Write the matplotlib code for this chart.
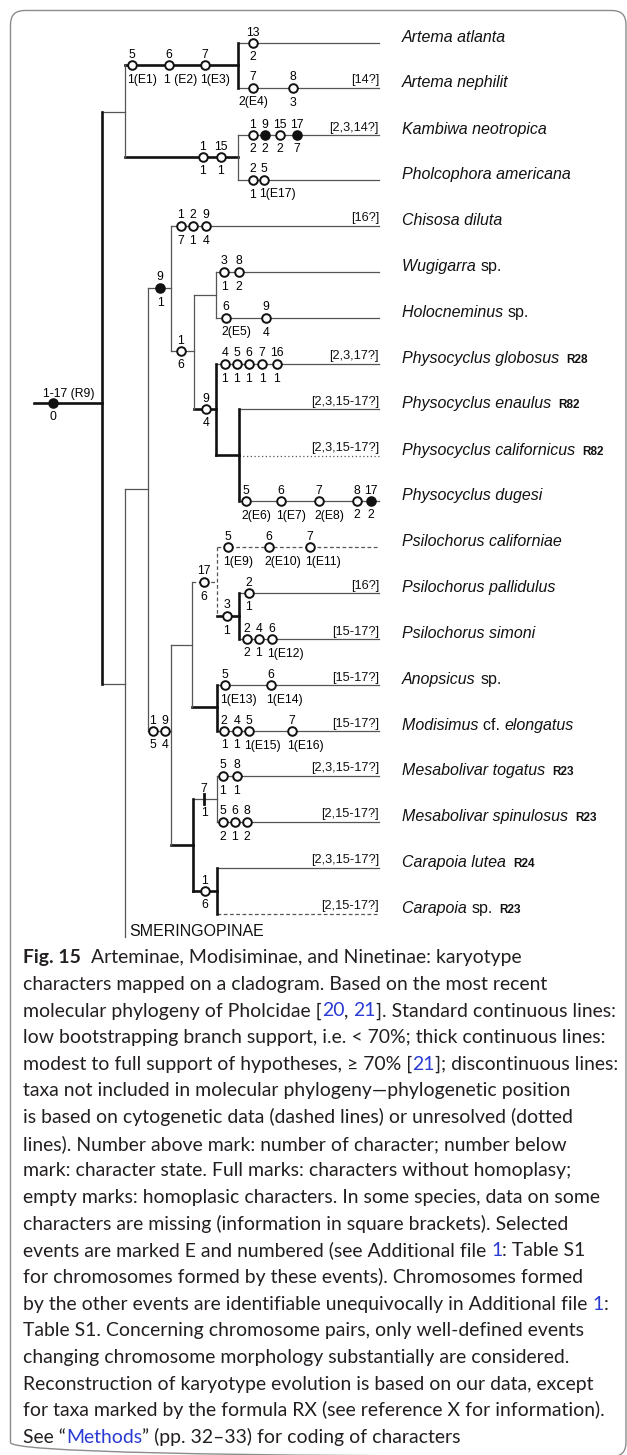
import matplotlib
matplotlib.use("Agg")
import matplotlib.pyplot as plt
from matplotlib.patches import FancyBboxPatch

# ---- values (pixel units, y grows downward) ----
taxa = ["Artema atlanta", "Artema nephilit", "Kambiwa neotropica", "Pholcophora americana",
        "Chisosa diluta", "Wugigarra sp.", "Holocneminus sp.", "Physocyclus globosus",
        "Physocyclus enaulus", "Physocyclus californicus", "Physocyclus dugesi",
        "Psilochorus californiae", "Psilochorus pallidulus", "Psilochorus simoni",
        "Anopsicus sp.", "Modisimus cf. elongatus", "Mesabolivar togatus",
        "Mesabolivar spinulosus", "Carapoia lutea", "Carapoia sp."]
tip_y = [43, 88, 135, 180, 226, 272, 318, 364, 409, 456, 501,
         547, 593, 639, 685, 731, 776, 822, 868, 914]
tip_x0 = [238, 238, 238, 238, 171, 216, 216, 216, 239, 239, 239,
          217, 239, 239, 217, 217, 217, 217, 217, 217]
tip_style = ["thin"] * 9 + ["dotted", "thin", "dashed"] + ["thin"] * 7 + ["dashed"]
missing = ["", "[14?]", "[2,3,14?]", "", "[16?]", "", "", "[2,3,17?]", "[2,3,15-17?]",
           "[2,3,15-17?]", "", "", "[16?]", "[15-17?]", "[15-17?]", "[15-17?]",
           "[2,3,15-17?]", "[2,15-17?]", "[2,3,15-17?]", "[2,15-17?]"]
refs = ["", "", "", "", "", "", "", "R28", "R82", "R82", "", "", "", "", "", "",
        "R23", "R23", "R24", "R23"]
TIP_END = 379

# internal branches (x0, x1, y, style)
h_edges = [
    (34, 102, 403, "thick"), (102, 125, 112, "thin"), (125, 238, 65, "thick"),
    (125, 238, 157, "thick"), (102, 125, 684, "thin"), (125, 148, 489, "thin"),
    (148, 171, 288, "thin"), (171, 194, 351, "thin"), (194, 216, 295, "thin"),
    (194, 216, 409, "thick"), (216, 239, 455, "thick"), (148, 171, 731, "thin"),
    (171, 192, 645, "thin"), (192, 217, 582, "dashed"), (217, 239, 616, "thick"),
    (192, 217, 707, "thick"), (171, 193, 845, "thick"), (193, 217, 799, "thin"),
    (193, 217, 891, "thick"),
]
# node bars (x, y0, y1, style)
v_edges = [
    (102, 112, 684, "thick"), (125, 65, 157, "thin"), (238, 43, 88, "thick"),
    (238, 135, 180, "thin"), (125, 489, 937, "thin"), (148, 288, 731, "thin"),
    (171, 226, 351, "thin"), (194, 295, 409, "thin"), (216, 272, 318, "thin"),
    (216, 364, 455, "thick"), (239, 409, 501, "thick"), (171, 645, 845, "thin"),
    (192, 582, 707, "thin"), (217, 547, 616, "dashed"), (239, 593, 639, "thick"),
    (217, 685, 731, "thick"), (193, 799, 891, "thick"), (217, 776, 822, "thin"),
    (217, 868, 914, "thick"),
]
# character marks (x, y, character, state, kind)  kind: o open, f full, | bar
marks = [
    (53, 403, "1-17 (R9)", "0", "f"),
    (132, 65, "5", "1(E1)", "o"), (169, 65, "6", "1 (E2)", "o"), (205, 65, "7", "1(E3)", "o"),
    (253, 43, "13", "2", "o"),
    (253, 88, "7", "2(E4)", "o"), (293, 88, "8", "3", "o"),
    (203, 157, "1", "1", "o"), (221, 157, "15", "1", "o"),
    (253, 135, "1", "2", "o"), (265, 135, "9", "2", "f"), (280, 135, "15", "2", "o"),
    (297, 135, "17", "7", "f"),
    (253, 180, "2", "1", "o"), (264, 180, "5", "1(E17)", "o"),
    (160, 288, "9", "1", "f"),
    (181, 226, "1", "7", "o"), (193, 226, "2", "1", "o"), (206, 226, "9", "4", "o"),
    (181, 351, "1", "6", "o"),
    (224, 272, "3", "1", "o"), (239, 272, "8", "2", "o"),
    (226, 318, "6", "2(E5)", "o"), (266, 318, "9", "4", "o"),
    (206, 409, "9", "4", "o"),
    (225, 364, "4", "1", "o"), (237, 364, "5", "1", "o"), (249, 364, "6", "1", "o"),
    (262, 364, "7", "1", "o"), (277, 364, "16", "1", "o"),
    (246, 501, "5", "2(E6)", "o"), (281, 501, "6", "1(E7)", "o"), (319, 501, "7", "2(E8)", "o"),
    (357, 501, "8", "2", "o"), (371, 501, "17", "2", "f"),
    (153, 731, "1", "5", "o"), (165, 731, "9", "4", "o"),
    (204, 582, "17", "6", "o"),
    (228, 547, "5", "1(E9)", "o"), (269, 547, "6", "2(E10)", "o"), (310, 547, "7", "1(E11)", "o"),
    (227, 616, "3", "1", "o"),
    (249, 593, "2", "1", "o"),
    (247, 639, "2", "2", "o"), (259, 639, "4", "1", "o"), (272, 639, "6", "1(E12)", "o"),
    (225, 685, "5", "1(E13)", "o"), (271, 685, "6", "1(E14)", "o"),
    (224, 731, "2", "1", "o"), (237, 731, "4", "1", "o"), (249, 731, "5", "1(E15)", "o"),
    (292, 731, "7", "1(E16)", "o"),
    (204, 799, "7", "1", "|"),
    (223, 776, "5", "1", "o"), (237, 776, "8", "1", "o"),
    (223, 822, "5", "2", "o"), (235, 822, "6", "1", "o"), (247, 822, "8", "2", "o"),
    (205, 891, "1", "6", "o"),
]
centered_states = {"2(E4)"}
upright_words = {"sp.", "cf."}

caption = [
    [("Fig. 15", "b"), ("  Arteminae, Modisiminae, and Ninetinae: karyotype", "")],
    [("characters mapped on a cladogram. Based on the most recent", "")],
    [("molecular phylogeny of Pholcidae [", ""), ("20", "link"), (", ", ""), ("21", "link"),
     ("]. Standard continuous lines:", "")],
    [("low bootstrapping branch support, i.e. < 70%; thick continuous lines:", "")],
    [("modest to full support of hypotheses, \u2265 70% [", ""), ("21", "link"),
     ("]; discontinuous lines:", "")],
    [("taxa not included in molecular phylogeny\u2014phylogenetic position", "")],
    [("is based on cytogenetic data (dashed lines) or unresolved (dotted", "")],
    [("lines). Number above mark: number of character; number below", "")],
    [("mark: character state. Full marks: characters without homoplasy;", "")],
    [("empty marks: homoplasic characters. In some species, data on some", "")],
    [("characters are missing (information in square brackets). Selected", "")],
    [("events are marked E and numbered (see Additional file ", ""), ("1", "link"),
     (": Table S1", "")],
    [("for chromosomes formed by these events). Chromosomes formed", "")],
    [("by the other events are identifiable unequivocally in Additional file ", ""),
     ("1", "link"), (":", "")],
    [("Table S1. Concerning chromosome pairs, only well-defined events", "")],
    [("changing chromosome morphology substantially are considered.", "")],
    [("Reconstruction of karyotype evolution is based on our data, except", "")],
    [("for taxa marked by the formula RX (see reference X for information).", "")],
    [("See \u201c", ""), ("Methods", "link"), ("\u201d (pp. 32\u201333) for coding of characters", "")],
]

# ---- drawing ----
THIN = "#555555"
INK = "#111111"
LINK = "#2a3bd4"
TREE_FONT = ["Liberation Sans", "DejaVu Sans"]
CAP_FONT = ["Lato", "DejaVu Sans"]
LBL = 8.8
styles = {
    "thin": dict(color=THIN, lw=0.9, solid_capstyle="projecting"),
    "thick": dict(color=INK, lw=1.9, solid_capstyle="projecting"),
    "dashed": dict(color=THIN, lw=0.9, ls=(0, (3, 2))),
    "dotted": dict(color=THIN, lw=0.9, ls=(0, (1, 2))),
}

fig = plt.figure(figsize=(6.27, 14.55), dpi=100)
ax = fig.add_axes([0, 0, 1, 1])
ax.set_xlim(0, 627)
ax.set_ylim(1455, 0)
ax.axis("off")
renderer = fig.canvas.get_renderer()


def text_w(s, **kw):
    t = ax.text(0, 0, s, **kw)
    w = t.get_window_extent(renderer).width
    t.remove()
    return w


def put_runs(x, y, runs, size, family, color):
    for s, st in runs:
        kw = dict(fontsize=size, family=family)
        if st == "i":
            kw["style"] = "italic"
        if st == "b":
            kw["weight"] = "bold"
        ax.text(x, y, s, va="baseline", ha="left", color=LINK if st == "link" else color, **kw)
        x += text_w(s + "|", **kw) - text_w("|", **kw)
    return x


ax.add_patch(FancyBboxPatch((10.5, 10.5), 615.5, 1446, boxstyle="round,pad=0,rounding_size=14",
                            fc="none", ec="#8c8c8c", lw=1.0))

for x0, x1, y, st in h_edges:
    ax.plot([x0, x1], [y, y], zorder=2, **styles[st])
for x, y0, y1, st in v_edges:
    ax.plot([x, x], [y0, y1], zorder=2, **styles[st])

for i, name in enumerate(taxa):
    y = tip_y[i]
    ax.plot([tip_x0[i], TIP_END], [y, y], zorder=1, **styles[tip_style[i]])
    if missing[i]:
        ax.text(TIP_END, y - 4.5, missing[i], ha="right", va="baseline", fontsize=9.2,
                family=TREE_FONT, color="#111")
    runs = []
    for wd in name.split(" "):
        st = "" if wd in upright_words else "i"
        if runs and runs[-1][1] == st:
            runs[-1] = (runs[-1][0] + " " + wd, st)
        else:
            if runs:
                runs[-1] = (runs[-1][0] + " ", runs[-1][1])
            runs.append((wd, st))
    x_end = put_runs(402, y - 1, runs, 11.5, TREE_FONT, "#111")
    if refs[i]:
        ax.text(x_end + 7, y - 1, refs[i], ha="left", va="baseline", fontsize=8.5,
                weight="bold", family=TREE_FONT, color="#111")

ax.text(129, 936, "SMERINGOPINAE", ha="left", va="baseline", fontsize=11.5,
        family=TREE_FONT, color="#111")

for x, y, ch, state, kind in marks:
    if kind == "|":
        ax.plot([x, x], [y - 5, y + 5], color=INK, lw=2.0, zorder=4)
    else:
        ax.plot(x, y, "o", ms=6.2, mew=1.4, mec=INK, mfc=INK if kind == "f" else "white", zorder=4)
    if len(ch) > 3:
        ax.text(x - 10, y - 6.5, ch, ha="left", va="baseline", fontsize=LBL, family=TREE_FONT)
    else:
        ax.text(x, y - 7.5, ch, ha="center", va="baseline", fontsize=LBL, family=TREE_FONT)
    if "(" in state and state not in centered_states:
        ax.text(x - 5, y + 17.5, state, ha="left", va="baseline", fontsize=LBL, family=TREE_FONT)
    else:
        ax.text(x, y + 17.5, state, ha="center", va="baseline", fontsize=LBL, family=TREE_FONT)

# caption: font size chosen so the widest line spans the measured width
ref_line = "".join(s for s, _ in caption[2])
cap_fs = 10 * 592 / text_w(ref_line, fontsize=10, family=CAP_FONT)
for k, runs in enumerate(caption):
    put_runs(23, 963 + 26.67 * k, runs, cap_fs, CAP_FONT, "#231f20")

fig.savefig("out.png", dpi=100)
